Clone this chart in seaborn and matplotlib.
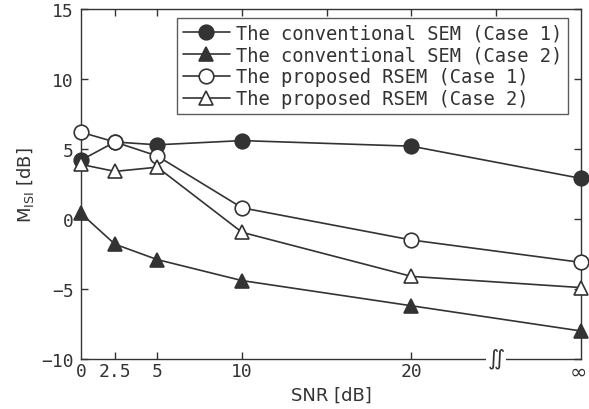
import seaborn as sns
import pandas as pd
import matplotlib.pyplot as plt

# x positions on a linear axis; "0" sits on the left edge, "inf" is drawn at 30
snr_pos = [0.5, 2.5, 5, 10, 20, 30]
snr_labels = ['0', '2.5', '5', '10', '20', '∞']

sem_case1 = [4.2, 5.5, 5.3, 5.6, 5.2, 2.9]
sem_case2 = [0.4, -1.8, -2.9, -4.4, -6.2, -8.0]
rsem_case1 = [6.2, 5.5, 4.5, 0.8, -1.5, -3.1]
rsem_case2 = [3.9, 3.4, 3.7, -0.95, -4.1, -4.9]

names = ['The conventional SEM (Case 1)', 'The conventional SEM (Case 2)',
         'The proposed RSEM (Case 1)', 'The proposed RSEM (Case 2)']
series = [sem_case1, sem_case2, rsem_case1, rsem_case2]

sns.set_style('ticks')
plt.rcParams['font.family'] = ['DejaVu Sans Mono', 'DejaVu Sans']
plt.rcParams['mathtext.fontset'] = 'dejavusans'

fig = plt.figure(figsize=(5.89, 4.10), dpi=100)
ax = fig.add_axes([0.1375, 0.122, 0.8489, 0.8536])

ink = '#333333'
styles = [('o', ink), ('^', ink), ('o', 'white'), ('^', 'white')]
for name, vals, (mk, fc) in zip(names, series, styles):
    df = pd.DataFrame({'snr': snr_pos, 'misi': vals})
    sns.lineplot(data=df, x='snr', y='misi', ax=ax, color=ink, lw=1.2,
                 marker=mk, markersize=10.5, markerfacecolor=fc,
                 markeredgecolor=ink, markeredgewidth=1.2, label=name,
                 clip_on=False, zorder=3)

ax.set_xlim(0.5, 30)
ax.set_ylim(-10, 15)
ax.set_xticks([2.5, 5, 10, 20])
ax.set_xticklabels([])
ax.set_yticks([-10, -5, 0, 5, 10, 15])
for x, lab in zip(snr_pos, snr_labels):
    if lab == '∞':
        ax.annotate(lab, (x, -10), xytext=(-2, -9), textcoords='offset points',
                    ha='center', va='center', fontsize=15, color=ink,
                    family='DejaVu Sans', annotation_clip=False)
    else:
        ax.annotate(lab, (x, -10), xytext=(0, -9), textcoords='offset points',
                    ha='center', va='center', fontsize=13, color=ink,
                    annotation_clip=False)
ax.tick_params(direction='in', length=5, width=1, colors=ink, labelsize=13,
               right=True, pad=5)
ax.tick_params(axis='x', top=False)
top = ax.secondary_xaxis('top')
top.set_xticks([2.5, 5, 10, 15, 20, 25])
top.tick_params(direction='in', length=5, width=1, colors=ink, labeltop=False)
top.spines['top'].set_visible(False)
for s in ax.spines.values():
    s.set_color(ink)
    s.set_linewidth(1)

# axis break mark
ax.text(25, -10, r'$\int\!\!\int$', ha='center', va='center', fontsize=11,
        color=ink, bbox=dict(facecolor='white', edgecolor='none', pad=0.5),
        zorder=5, clip_on=False)

ax.set_xlabel('SNR [dB]', fontsize=13, color=ink, labelpad=14,
              family='DejaVu Sans')
ax.set_ylabel(r'M$_{\rm ISI}$ [dB]', fontsize=13, color=ink, labelpad=4,
              family='DejaVu Sans')

leg = ax.legend(loc='upper right', bbox_to_anchor=(0.974, 0.974),
                borderaxespad=0, fontsize=13.5, frameon=True, fancybox=False,
                handlelength=2.5, handletextpad=0.35, labelspacing=0.15,
                borderpad=0.3)
leg.get_frame().set_edgecolor(ink)
leg.get_frame().set_linewidth(1)
for t in leg.get_texts():
    t.set_color(ink)

fig.savefig('out.png', dpi=100)
